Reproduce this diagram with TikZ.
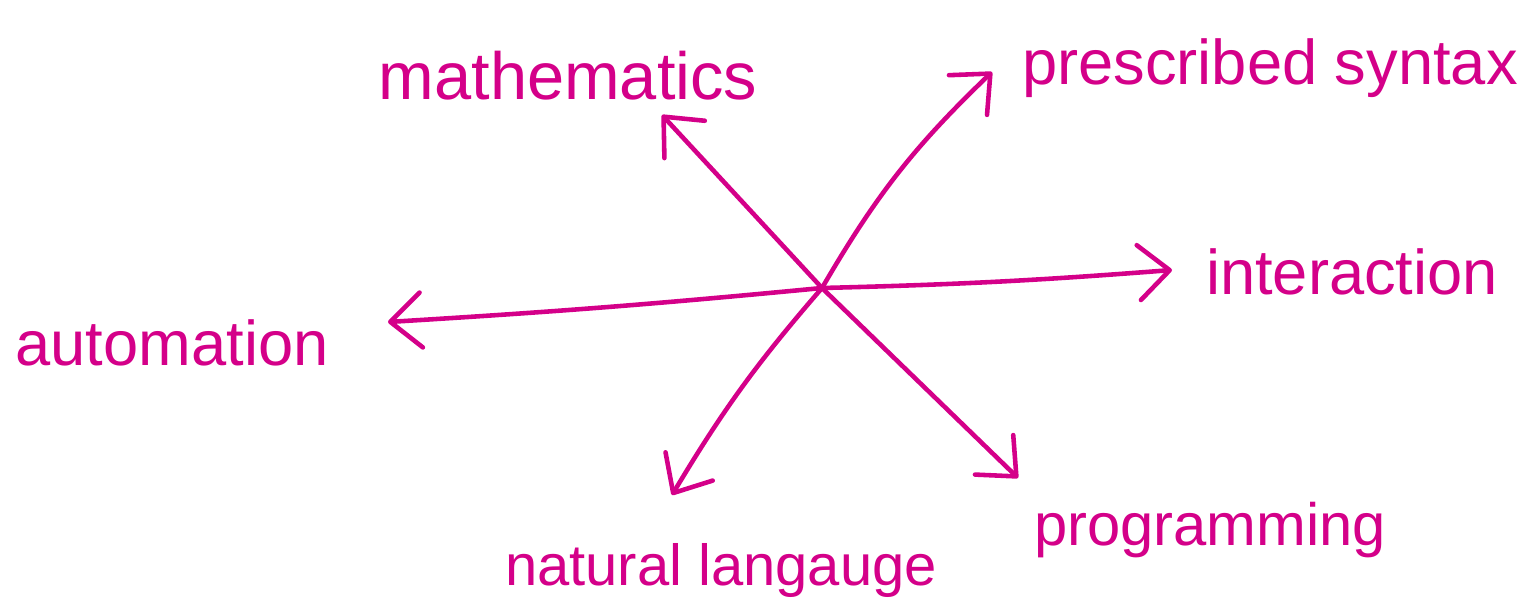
\documentclass[tikz,border=0pt]{standalone}
\usepackage{fontspec}
\setmainfont{Liberation Sans}
\usetikzlibrary{arrows.meta}
\definecolor{ink}{RGB}{212,0,137}
\begin{document}
\begin{tikzpicture}[x=0.02cm,y=-0.02cm,
  conn/.style={draw=ink,line width=2.6pt,line cap=round,line join=round,
    -{Straight Barb[length=0.62cm,width=1.1cm,round]}},
  lbl/.style={text=ink,font=\fontsize{36}{40}\selectfont,inner sep=0pt,anchor=base}]
\useasboundingbox (0,0) rectangle (1524,611);
\coordinate (c) at (822,288);
\coordinate (tm) at (662,115);
\coordinate (tp) at (992,72);
\coordinate (ti) at (1172,270);
\coordinate (ta) at (388,322);
\coordinate (tn) at (672,495);
\coordinate (tg) at (1018,478);
\node[lbl,font=\fontsize{38}{42}\selectfont] (math) at (568,100) {mathematics};
\node[lbl] (presc) at (1270,85) {prescribed syntax};
\node[lbl] (inter) at (1352,295) {interaction};
\node[lbl] (auto) at (172,365) {automation};
\node[lbl,font=\fontsize{33}{38}\selectfont] (nat) at (721,585) {natural langauge};
\node[lbl,font=\fontsize{34}{38}\selectfont] (prog) at (1210,545) {programming};
\draw[conn] (c) to (tm);
\draw[conn] (c) to[bend left=8] (tp);
\draw[conn] (c) to[bend right=1.5] (ti);
\draw[conn] (c) to[bend left=1] (ta);
\draw[conn] (c) to[bend right=5] (tn);
\draw[conn] (c) to (tg);
\end{tikzpicture}
\end{document}
